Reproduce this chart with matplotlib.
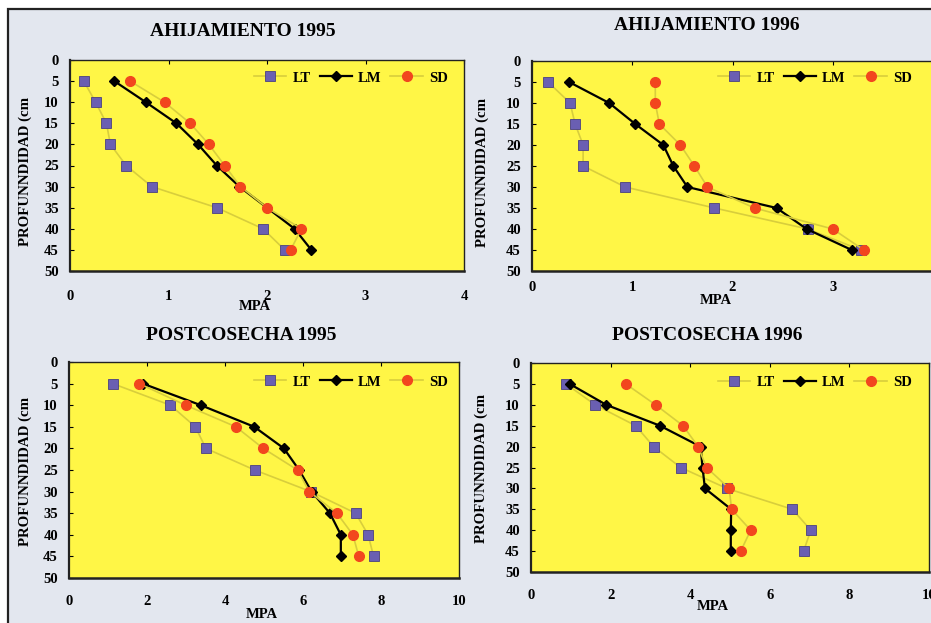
import numpy as np
import matplotlib
matplotlib.use("Agg")
from matplotlib import pyplot as plt
from matplotlib.patches import Rectangle

# depth (cm) shared by every panel
depth = [5, 10, 15, 20, 25, 30, 35, 40, 45]

# AHIJAMIENTO 1995
lt_a95 = [0.14, 0.26, 0.37, 0.41, 0.57, 0.83, 1.49, 1.96, 2.18]
lm_a95 = [0.45, 0.77, 1.08, 1.30, 1.49, 1.72, 2.00, 2.28, 2.45]
sd_a95 = [0.61, 0.96, 1.22, 1.41, 1.57, 1.73, 2.00, 2.35, 2.24]

# AHIJAMIENTO 1996
lt_a96 = [0.16, 0.38, 0.43, 0.51, 0.51, 0.93, 1.82, 2.75, 3.28]
lm_a96 = [0.37, 0.77, 1.03, 1.31, 1.41, 1.55, 2.44, 2.74, 3.19]
sd_a96 = [1.23, 1.23, 1.27, 1.48, 1.62, 1.75, 2.22, 3.00, 3.31]

# POSTCOSECHA 1995
lt_p95 = [1.12, 2.60, 3.24, 3.51, 4.76, 6.20, 7.35, 7.67, 7.81]
lm_p95 = [1.89, 3.38, 4.75, 5.51, 5.90, 6.22, 6.69, 6.97, 6.97]
sd_p95 = [1.80, 2.99, 4.28, 4.98, 5.86, 6.16, 6.87, 7.28, 7.43]

# POSTCOSECHA 1996
lt_p96 = [0.88, 1.61, 2.63, 3.08, 3.76, 4.92, 6.57, 7.03, 6.85]
lm_p96 = [0.97, 1.89, 3.24, 4.26, 4.31, 4.37, 5.03, 5.02, 5.02]
sd_p96 = [2.38, 3.13, 3.82, 4.20, 4.41, 4.98, 5.04, 5.52, 5.27]

titles = ["AHIJAMIENTO 1995", "AHIJAMIENTO 1996", "POSTCOSECHA 1995", "POSTCOSECHA 1996"]
xmax = [4, 4, 10, 10]
xticks = [[0, 1, 2, 3, 4], [0, 1, 2, 3], [0, 2, 4, 6, 8, 10], [0, 2, 4, 6, 8, 10]]
ylabel = "PROFUNNDIDAD (cm"
xlabel = "MPA"

W, H = 931, 623
FONT = "Liberation Serif"
BG = "#e3e7ef"
PLOT_BG = "#fff646"
PALE = "#d8ce3c"
LT_C = "#6a5fb2"
SD_C = "#f2461e"

#################################################
# layout, in pixels of the reference picture
#################################################
# left, right, top, bottom of each plot area
boxes = [(70, 464, 60, 271), (532, 933, 61, 271),
         (69, 459, 362, 578), (531, 929, 363, 572)]
title_pos = [(243, 32), (707, 25), (241, 335), (707, 336)]
ylab_pos = [(25, 171), (482, 172), (25, 471), (481, 468)]
xlab_pos = [(255, 307), (716, 300), (262, 614), (713, 606)]
leg_pos = [(448, 78), (912, 78), (448, 382), (912, 382)]
tick_pad = [13.5, 7, 12, 12.5]


def fx(x):
    return x / W


def fy(y):
    return 1 - y / H


plt.rcParams['font.family'] = [FONT, 'DejaVu Serif']
plt.rcParams['font.weight'] = 'bold'

fig = plt.figure(figsize=(W / 100, H / 100), dpi=100)
fig.patch.set_facecolor("white")
# scanned page frame, kept under the axes
fig.patches.append(Rectangle((fx(8), -0.02), 1.05, fy(9) + 0.02, transform=fig.transFigure,
                             facecolor=BG, edgecolor="#222222", linewidth=1.6, zorder=-10))

series = [(lt_a95, lm_a95, sd_a95), (lt_a96, lm_a96, sd_a96),
          (lt_p95, lm_p95, sd_p95), (lt_p96, lm_p96, sd_p96)]

for i, (lt, lm, sd) in enumerate(series):
    l, r, t, b = boxes[i]
    ax = fig.add_axes([fx(l), fy(b), (r - l) / W, (b - t) / H])
    ax.set_zorder(1)
    ax.set_facecolor(PLOT_BG)

    ax.plot(lt, depth, color=PALE, lw=1.2, marker="s", ms=6.5,
            mfc=LT_C, mec="#4a4080", mew=0.6, label="LT", zorder=3)
    ax.plot(lm, depth, color="black", lw=1.6, marker="D", ms=5.5,
            mfc="black", mec="black", label="LM", zorder=4)
    ax.plot(sd, depth, color=PALE, lw=1.2, marker="o", ms=7,
            mfc=SD_C, mec=SD_C, label="SD", zorder=5)

    ax.set_xlim(0, xmax[i])
    ax.set_ylim(50, 0)
    ax.set_yticks(np.arange(0, 51, 5))
    ax.set_xticks(xticks[i])
    ax.tick_params(axis="y", direction="in", length=3, width=0.8, pad=8, labelsize=10.5)
    ax.tick_params(axis="x", bottom=False, top=True, direction="in", length=3,
                   width=0.8, labelbottom=True, pad=tick_pad[i], labelsize=10.5)
    for s in ax.spines.values():
        s.set_color("#222222")
        s.set_linewidth(1.0)
    ax.spines["bottom"].set_linewidth(1.8)
    ax.spines["left"].set_linewidth(1.6)

    lx, ly = leg_pos[i]
    leg = ax.legend(loc="center right", bbox_to_anchor=((lx - l) / (r - l), (b - ly) / (b - t)),
                    ncol=3, frameon=False, borderpad=0, borderaxespad=0,
                    handlelength=2.2, handletextpad=0.45, columnspacing=0.6,
                    prop={"family": FONT, "weight": "bold", "size": 10.5})

    tx, ty = title_pos[i]
    fig.text(fx(tx), fy(ty), titles[i], ha="center", va="center",
             fontsize=14, fontweight="bold")
    yx, yy = ylab_pos[i]
    fig.text(fx(yx), fy(yy), ylabel, ha="center", va="center", rotation=90,
             fontsize=10.7, fontweight="bold")
    mx, my = xlab_pos[i]
    fig.text(fx(mx), fy(my), xlabel, ha="center", va="center",
             fontsize=10.5, fontweight="bold")

fig.savefig("out.png", dpi=100, facecolor=fig.get_facecolor())
